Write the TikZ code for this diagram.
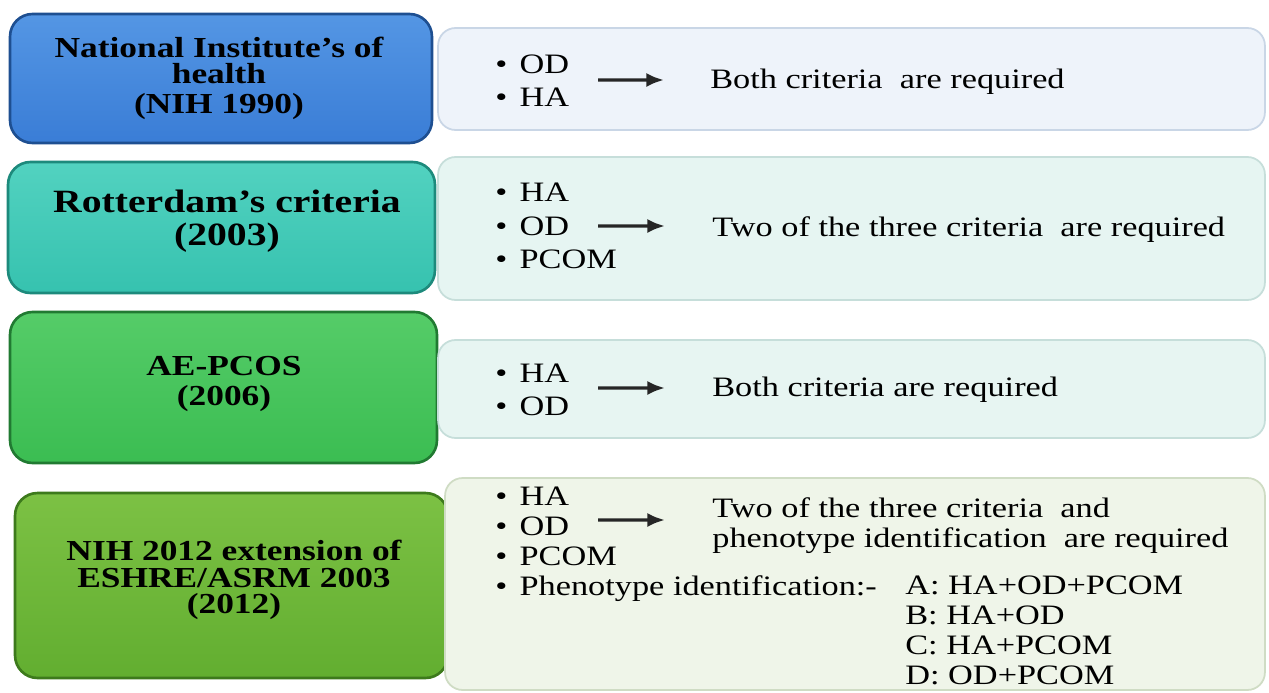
\documentclass[tikz,border=0pt]{standalone}
\usepackage{fontspec}
\setmainfont{Liberation Serif}[FakeStretch=1.22]
\usetikzlibrary{arrows.meta,calc}
\definecolor{bluef}{HTML}{3A7DD6}
\definecolor{bluet}{HTML}{5496E4}
\definecolor{blued}{HTML}{1E4F91}
\definecolor{tealf}{HTML}{36C2AF}
\definecolor{tealt}{HTML}{52D2C0}
\definecolor{teald}{HTML}{1D8A7C}
\definecolor{grnf}{HTML}{3BBD52}
\definecolor{grnt}{HTML}{55CC68}
\definecolor{grnd}{HTML}{217A32}
\definecolor{lgrnf}{HTML}{62AE30}
\definecolor{lgrnt}{HTML}{7CC144}
\definecolor{lgrnd}{HTML}{3D7A1C}
\definecolor{r1f}{HTML}{EEF3FA}
\definecolor{r1d}{HTML}{C9D6E6}
\definecolor{r2f}{HTML}{E6F5F2}
\definecolor{r2d}{HTML}{C6DEDA}
\definecolor{r3f}{HTML}{E7F5F2}
\definecolor{r3d}{HTML}{C6DEDA}
\definecolor{r4f}{HTML}{EFF5E9}
\definecolor{r4d}{HTML}{CFDCC4}
\newcommand{\bl}{\textbullet\hspace{7pt}}
\tikzset{
  leftbox/.style={draw, line width=1.5pt, rounded corners=0.45cm, inner sep=0pt},
  lefttext/.style={align=center, text=black, inner sep=0pt},
  rightbox/.style={draw, line width=1pt, rounded corners=0.35cm, inner sep=0pt},
  bul/.style={anchor=west, align=left, inner sep=0pt, font=\fontsize{16}{19}\selectfont},
  res/.style={anchor=west, align=left, inner sep=0pt, font=\fontsize{16}{19}\selectfont},
  arr/.style={-{Latex[length=10pt,width=8pt]}, line width=1.9pt, black!85}
}
\begin{document}
\begin{tikzpicture}[x=0.02cm,y=-0.02cm]
\useasboundingbox[fill=white] (0,0) rectangle (1269,693);
% left boxes
\node[leftbox, draw=blued, top color=bluet, bottom color=bluef, minimum width=8.44cm, minimum height=2.58cm]
  (l1) at (221,78.5) {};
\node[lefttext, font=\fontsize{16.5}{15}\selectfont\bfseries] (l1t) at (219,78)
  {National Institute's of\\health\\[2pt](NIH 1990)};
\node[leftbox, draw=teald, top color=tealt, bottom color=tealf, minimum width=8.54cm, minimum height=2.62cm]
  (l2) at (221.5,227.5) {};
\node[lefttext, font=\fontsize{18.5}{19}\selectfont\bfseries] (l2t) at (227,221)
  {Rotterdam's criteria\\(2003)};
\node[leftbox, draw=grnd, top color=grnt, bottom color=grnf, minimum width=8.54cm, minimum height=3.02cm]
  (l3) at (223.5,387.5) {};
\node[lefttext, font=\fontsize{16.5}{17}\selectfont\bfseries] (l3t) at (224,384)
  {AE-PCOS\\(2006)};
\node[leftbox, draw=lgrnd, top color=lgrnt, bottom color=lgrnf, minimum width=8.66cm, minimum height=3.70cm]
  (l4) at (231.5,585.5) {};
\node[lefttext, font=\fontsize{16.5}{15}\selectfont\bfseries] (l4t) at (234,580)
  {NIH 2012 extension of\\ESHRE/ASRM 2003\\(2012)};
% right boxes
\node[rightbox, draw=r1d, fill=r1f, minimum width=16.54cm, minimum height=2.04cm] (r1) at (851.5,79) {};
\node[rightbox, draw=r2d, fill=r2f, minimum width=16.54cm, minimum height=2.86cm] (r2) at (851.5,228.5) {};
\node[rightbox, draw=r3d, fill=r3f, minimum width=16.54cm, minimum height=1.96cm] (r3) at (851.5,389) {};
\node[rightbox, draw=r4d, fill=r4f, minimum width=16.40cm, minimum height=4.24cm] (r4) at (855,584) {};
% contents row 1
\node[bul] (b1) at (495,81) {\bl OD\\\bl HA};
\node[res] (t1) at (710,82) {Both criteria\ \ are required};
\coordinate (a1) at (598,80);
\draw[arr] (a1) -- ([xshift=-0.92cm,yshift=0.04cm]t1.west);
% row 2
\node[bul] (b2) at (495,226) {\bl HA\\\bl OD\\\bl PCOM};
\node[res] (t2) at (712,230) {Two of the three criteria\ \ are required};
\coordinate (a2) at (598,226);
\draw[arr] (a2) -- ([xshift=-0.94cm,yshift=0.08cm]t2.west);
% row 3
\node[bul] (b3) at (495,390) {\bl HA\\\bl OD};
\node[res] (t3) at (712,390) {Both criteria are required};
\coordinate (a3) at (598,388);
\draw[arr] (a3) -- ([xshift=-0.94cm,yshift=0.04cm]t3.west);
% row 4
\node[bul, anchor=north west, font=\fontsize{16}{17}\selectfont] (b4) at (495,487)
  {\bl HA\\\bl OD\\\bl PCOM\\\bl Phenotype identification:-};
\node[res, font=\fontsize{16}{17}\selectfont] (t4) at (712,526) {Two of the three criteria\ \ and\\phenotype identification\ \ are required};
\node[bul, anchor=north west, font=\fontsize{16}{17}\selectfont] (p4) at (905,576)
  {A: HA+OD+PCOM\\B: HA+OD\\C: HA+PCOM\\D: OD+PCOM};
\coordinate (a4) at (598,520);
\draw[arr] (a4) -- ([xshift=-0.94cm,yshift=0.12cm]t4.west);
\end{tikzpicture}
\end{document}
